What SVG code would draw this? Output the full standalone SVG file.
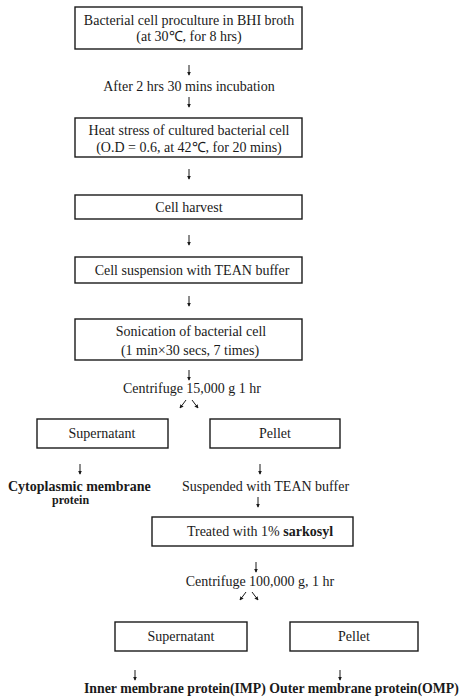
<svg xmlns="http://www.w3.org/2000/svg" width="465" height="699" viewBox="0 0 465 699">
<style>
.bx{fill:#fff;stroke:#1a1a1a;stroke-width:1.4}
.t{font-family:"Liberation Serif","Times New Roman",serif;font-size:14px;fill:#1a1a1a}
.m{text-anchor:middle}
.b{font-weight:bold}
.cn{stroke:#1a1a1a;stroke-width:1;fill:none}
</style>
<defs>
<marker id="ah" viewBox="0 0 6 6" refX="5" refY="3" markerWidth="4" markerHeight="4" orient="auto"><path d="M0,0 L6,3 L0,6 z" fill="#1a1a1a"/></marker>
</defs>
<rect width="465" height="699" fill="#fff"/>
<g id="connectors">
<line class="cn" x1="189" y1="65" x2="189" y2="75" marker-end="url(#ah)"/>
<line class="cn" x1="189" y1="97" x2="189" y2="107" marker-end="url(#ah)"/>
<line class="cn" x1="189" y1="169" x2="189" y2="179" marker-end="url(#ah)"/>
<line class="cn" x1="189" y1="235" x2="189" y2="245" marker-end="url(#ah)"/>
<line class="cn" x1="189" y1="296" x2="189" y2="306" marker-end="url(#ah)"/>
<line class="cn" x1="189" y1="370" x2="189" y2="380" marker-end="url(#ah)"/>
<line class="cn" x1="186" y1="400" x2="180" y2="408" marker-end="url(#ah)"/>
<line class="cn" x1="192" y1="400" x2="198" y2="408" marker-end="url(#ah)"/>
<line class="cn" x1="80" y1="464" x2="80" y2="474" marker-end="url(#ah)"/>
<line class="cn" x1="260" y1="464" x2="260" y2="474" marker-end="url(#ah)"/>
<line class="cn" x1="258" y1="497" x2="258" y2="507" marker-end="url(#ah)"/>
<line class="cn" x1="256" y1="562" x2="256" y2="572" marker-end="url(#ah)"/>
<line class="cn" x1="246" y1="592" x2="240" y2="600" marker-end="url(#ah)"/>
<line class="cn" x1="252" y1="592" x2="258" y2="600" marker-end="url(#ah)"/>
<line class="cn" x1="135" y1="670" x2="135" y2="680" marker-end="url(#ah)"/>
<line class="cn" x1="340" y1="670" x2="340" y2="680" marker-end="url(#ah)"/>
</g>
<g id="preculture">
<rect class="bx" x="75" y="7" width="227" height="42"/>
<text class="t m" x="189" y="25">Bacterial cell proculture in BHI broth</text>
<text class="t m" x="189" y="41">(at 30℃, for 8 hrs)</text>
</g>
<g id="incubation">
<text class="t m" x="189" y="90.5">After 2 hrs 30 mins incubation</text>
</g>
<g id="heat-stress">
<rect class="bx" x="75" y="118" width="227" height="39"/>
<text class="t m" x="189" y="134.5">Heat stress of cultured bacterial cell</text>
<text class="t m" x="189" y="151.5">(O.D = 0.6, at 42℃, for 20 mins)</text>
</g>
<g id="harvest">
<rect class="bx" x="75" y="195" width="227" height="24"/>
<text class="t m" x="189" y="211.5">Cell harvest</text>
</g>
<g id="suspension">
<rect class="bx" x="75" y="257" width="227" height="26"/>
<text class="t m" x="192" y="274.5">Cell suspension with TEAN buffer</text>
</g>
<g id="sonication">
<rect class="bx" x="75" y="319" width="227" height="41"/>
<text class="t m" x="191" y="336">Sonication of bacterial cell</text>
<text class="t m" x="190" y="354.5">(1 min×30 secs, 7 times)</text>
</g>
<g id="centrifuge1">
<text class="t m" x="192" y="392.5">Centrifuge 15,000 g 1 hr</text>
</g>
<g id="supernatant1">
<rect class="bx" x="37" y="419" width="131" height="29"/>
<text class="t m" x="102" y="438">Supernatant</text>
</g>
<g id="pellet1">
<rect class="bx" x="210" y="419" width="130" height="29"/>
<text class="t m" x="275" y="438">Pellet</text>
</g>
<g id="cytoplasmic">
<text class="t b" x="8" y="490.5">Cytoplasmic membrane</text>
<text class="t b" x="52" y="504" style="font-size:12px">protein</text>
</g>
<g id="suspended">
<text class="t" x="182" y="490.5">Suspended with TEAN buffer</text>
</g>
<g id="sarkosyl">
<rect class="bx" x="152" y="517" width="201" height="29"/>
<text class="t m" x="260" y="536">Treated with 1% <tspan class="b">sarkosyl</tspan></text>
</g>
<g id="centrifuge2">
<text class="t m" x="260" y="585.5">Centrifuge 100,000 g, 1 hr</text>
</g>
<g id="supernatant2">
<rect class="bx" x="115" y="622" width="132" height="29"/>
<text class="t m" x="181" y="641">Supernatant</text>
</g>
<g id="pellet2">
<rect class="bx" x="290" y="622" width="128" height="29"/>
<text class="t m" x="354" y="641">Pellet</text>
</g>
<g id="results">
<text class="t b" x="84" y="692.5" style="font-size:13.8px">Inner membrane protein(IMP) Outer membrane protein(OMP)</text>
</g>
</svg>
